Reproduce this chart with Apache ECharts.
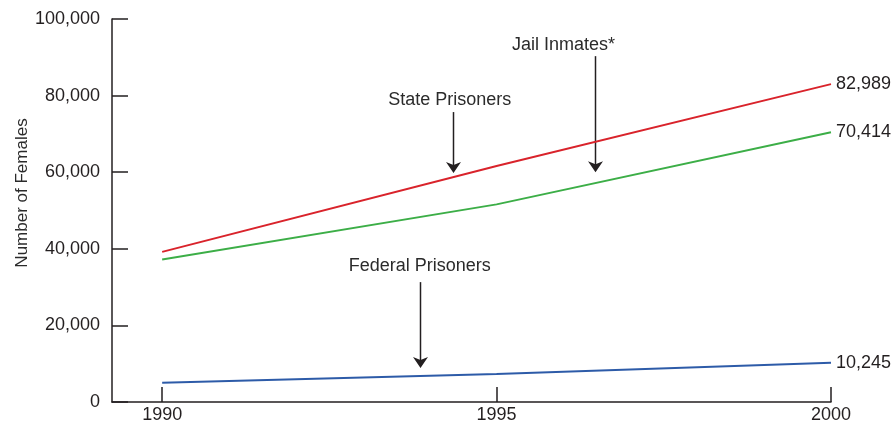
<!DOCTYPE html>
<html>
<head>
<meta charset="utf-8">
<script src="https://cdn.jsdelivr.net/npm/echarts@6/dist/echarts.min.js"></script>
<style>html,body{margin:0;padding:0;background:#fff}#c{width:892px;height:425px}</style>
</head>
<body>
<div id="c"></div>
<script>
const years = [1990, 1995, 2000];
const stateValues = [39200, 61600, 82989];
const jailValues = [37200, 51600, 70414];
const federalValues = [5000, 7300, 10245];
const yTicks = [0, 20000, 40000, 60000, 80000, 100000];
const xTicks = [1990, 1995, 2000];
const seriesNames = ['State Prisoners', 'Jail Inmates*', 'Federal Prisoners'];
// annotation anchors in data coordinates: [labelX, labelY, arrowX, arrowTopY, arrowTipY]
const stateNote = [1994.3, 78850, 1994.35, 75700, 59800];
const jailNote = [1996.0, 93200, 1996.47, 90300, 60000];
const federalNote = [1993.85, 35500, 1993.86, 31300, 8900];

const txt = '#231f20';
const font = 'Liberation Sans, Arial, sans-serif';
const fmt = v => v === 0 ? '0' : v.toLocaleString('en-US');

const chart = echarts.init(document.getElementById('c'));
function mk(name, vals, color) {
  return {
    name: name, type: 'line', data: years.map((y, i) => [y, vals[i]]),
    showSymbol: false, symbol: 'none', lineStyle: { color: color, width: 2 }, itemStyle: { color: color },
    animation: false,
    endLabel: { show: true, formatter: p => fmt(p.value[1]), color: txt, fontSize: 18, fontFamily: font, distance: 5 }
  };
}
chart.setOption({
  animation: false,
  grid: { left: 112, right: 61, top: 19, bottom: 23 },
  xAxis: {
    type: 'value', min: 1989.25, max: 2000,
    axisLine: { lineStyle: { color: txt, width: 1.5 } },
    axisTick: { show: true, inside: true, length: 15, lineStyle: { color: txt, width: 1.5 }, customValues: xTicks },
    axisLabel: { color: txt, fontSize: 18, fontFamily: font, margin: 4, customValues: xTicks, formatter: v => String(v) },
    splitLine: { show: false }
  },
  yAxis: {
    type: 'value', min: 0, max: 100000, interval: 20000,
    axisLine: { show: true, lineStyle: { color: txt, width: 1.5 } },
    axisTick: { show: true, inside: true, length: 16, lineStyle: { color: txt, width: 1.5 } },
    axisLabel: { color: txt, fontSize: 18, fontFamily: font, margin: 12, formatter: v => fmt(v) },
    splitLine: { show: false }
  },
  series: [
    mk(seriesNames[0], stateValues, '#d9232b'),
    mk(seriesNames[1], jailValues, '#3cae47'),
    mk(seriesNames[2], federalValues, '#2d5ba8')
  ]
});

function note(label, a) {
  const t = chart.convertToPixel({ gridIndex: 0 }, [a[0], a[1]]);
  const top = chart.convertToPixel({ gridIndex: 0 }, [a[2], a[3]]);
  const tip = chart.convertToPixel({ gridIndex: 0 }, [a[2], a[4]]);
  const x = Math.round(top[0]) + 0.5;
  return [
    { type: 'text', x: t[0], y: t[1], style: { text: label, fill: '#2b2b2b', font: '18px ' + font, align: 'center', verticalAlign: 'middle' } },
    { type: 'line', shape: { x1: x, y1: top[1], x2: x, y2: tip[1] - 7 }, style: { stroke: '#231f20', lineWidth: 1.5 } },
    { type: 'polygon', shape: { points: [[x, tip[1]], [x - 7.5, tip[1] - 11], [x, tip[1] - 8], [x + 7.5, tip[1] - 11]] }, style: { fill: '#231f20' } }
  ];
}
const els = [].concat(
  note(seriesNames[0], stateNote),
  note(seriesNames[1], jailNote),
  note(seriesNames[2], federalNote),
  [{ type: 'text', x: 22, y: 193, rotation: Math.PI / 2, style: { text: 'Number of Females', fill: '#2b2b2b', font: '17px ' + font, align: 'center', verticalAlign: 'middle' } }]
);
chart.setOption({ graphic: els });
</script>
</body>
</html>
